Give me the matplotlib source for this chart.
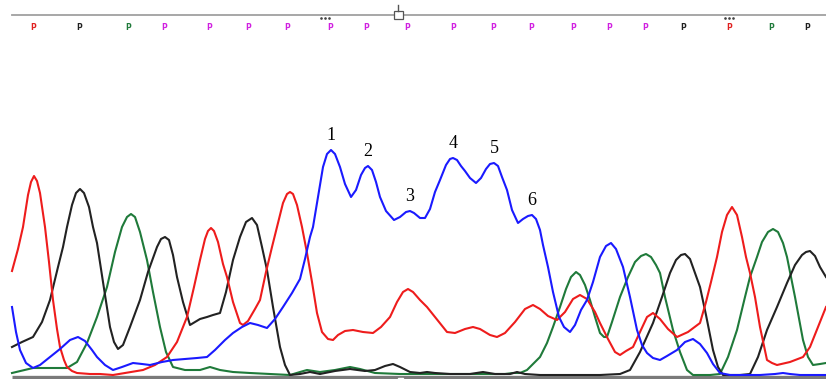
import matplotlib
matplotlib.use("Agg")
import matplotlib.pyplot as plt
from matplotlib.patches import Rectangle

# trace data: scan position, signal height above baseline
red_x = [12, 18, 23, 28, 31, 34, 37, 40, 45, 49, 53, 57, 60, 64, 67, 72, 77, 90, 100, 113, 125, 143, 155, 167, 177, 187, 194, 200, 205, 208, 211, 214, 218, 223, 227, 233, 240, 243, 248, 255, 260, 266, 272, 277, 283, 287, 290, 293, 297, 302, 307, 312, 317, 322, 328, 333, 338, 345, 353, 363, 373, 381, 390, 397, 403, 408, 413, 420, 427, 435, 447, 455, 465, 473, 480, 490, 497, 505, 515, 525, 533, 540, 548, 557, 565, 573, 580, 587, 595, 600, 608, 615, 620, 626, 633, 640, 647, 653, 660, 668, 677, 688, 700, 706, 711, 717, 722, 727, 732, 737, 742, 746, 750, 755, 760, 767, 772, 777, 790, 803, 810, 818, 826]
red_h = [106, 128, 150, 182, 195, 201, 196, 184, 150, 115, 77, 48, 30, 17, 10, 6, 4, 3, 3, 2, 4, 7, 12, 20, 35, 60, 90, 117, 138, 146, 149, 146, 135, 113, 100, 75, 54, 52, 56, 68, 77, 105, 130, 150, 174, 183, 185, 183, 172, 150, 124, 95, 64, 45, 38, 37, 42, 46, 47, 45, 44, 50, 60, 75, 85, 88, 85, 77, 70, 60, 45, 44, 48, 50, 48, 42, 40, 44, 55, 68, 72, 68, 61, 57, 65, 78, 82, 78, 65, 54, 38, 25, 22, 26, 30, 45, 60, 64, 58, 48, 40, 45, 54, 75, 95, 120, 145, 162, 170, 162, 140, 120, 104, 80, 50, 17, 14, 12, 15, 20, 30, 50, 70]

black_x = [12, 22, 33, 42, 50, 58, 63, 67, 72, 76, 80, 84, 89, 93, 97, 103, 110, 114, 118, 123, 130, 140, 148, 157, 161, 165, 169, 173, 177, 183, 190, 195, 200, 207, 213, 220, 226, 233, 240, 246, 252, 257, 262, 267, 273, 280, 285, 290, 300, 310, 320, 335, 350, 365, 375, 385, 393, 400, 410, 420, 427, 435, 450, 470, 483, 495, 510, 517, 525, 540, 560, 600, 620, 630, 640, 653, 662, 670, 676, 681, 685, 690, 695, 700, 706, 713, 718, 723, 740, 750, 758, 767, 777, 787, 795, 802, 806, 810, 815, 820, 826]
black_h = [30, 35, 40, 55, 77, 110, 130, 150, 172, 184, 188, 184, 170, 150, 134, 95, 50, 35, 28, 32, 50, 77, 105, 130, 138, 140, 137, 122, 100, 75, 52, 55, 58, 60, 62, 64, 85, 117, 140, 155, 159, 152, 130, 107, 70, 30, 12, 2, 3, 5, 3, 6, 8, 6, 7, 11, 13, 10, 5, 4, 5, 4, 3, 3, 5, 3, 3, 5, 3, 2, 2, 2, 3, 7, 25, 54, 80, 104, 117, 122, 123, 118, 104, 90, 62, 27, 10, 2, 2, 3, 20, 47, 70, 94, 112, 122, 125, 126, 121, 110, 100]

green_x = [12, 33, 55, 67, 77, 87, 97, 107, 115, 122, 127, 131, 135, 140, 147, 153, 160, 166, 173, 185, 200, 210, 220, 233, 250, 270, 290, 300, 307, 320, 335, 350, 360, 375, 400, 430, 460, 490, 505, 513, 520, 527, 535, 540, 547, 553, 560, 566, 571, 576, 580, 585, 590, 595, 600, 604, 607, 612, 620, 628, 635, 641, 646, 651, 656, 660, 665, 673, 680, 687, 693, 710, 720, 728, 737, 745, 750, 757, 762, 768, 773, 778, 783, 787, 795, 803, 808, 813, 820, 826]
green_h = [4, 9, 9, 9, 15, 34, 60, 90, 125, 150, 160, 163, 160, 145, 117, 85, 50, 25, 10, 7, 7, 10, 7, 5, 4, 3, 2, 5, 7, 5, 7, 10, 8, 4, 3, 3, 3, 3, 3, 4, 4, 7, 15, 20, 34, 50, 70, 88, 100, 105, 102, 92, 77, 60, 44, 40, 40, 55, 80, 100, 115, 121, 123, 120, 112, 104, 80, 47, 25, 7, 2, 2, 3, 20, 47, 80, 100, 120, 135, 145, 148, 145, 134, 120, 80, 37, 20, 12, 13, 14]

blue_x = [12, 16, 20, 26, 33, 40, 50, 60, 70, 78, 85, 92, 97, 105, 113, 122, 133, 142, 150, 162, 173, 185, 197, 207, 215, 225, 233, 242, 250, 258, 267, 275, 283, 292, 300, 305, 310, 313, 318, 323, 327, 331, 335, 340, 345, 351, 356, 361, 365, 368, 372, 376, 380, 386, 394, 400, 406, 410, 414, 420, 425, 430, 435, 440, 446, 450, 453, 457, 461, 465, 470, 476, 481, 486, 490, 494, 498, 502, 507, 512, 518, 523, 528, 532, 536, 540, 543, 548, 553, 559, 564, 570, 575, 581, 587, 593, 600, 606, 611, 616, 623, 630, 637, 642, 647, 653, 660, 667, 677, 685, 693, 700, 707, 713, 720, 730, 760, 775, 783, 790, 800, 826]
blue_h = [70, 45, 27, 14, 9, 12, 20, 28, 37, 40, 36, 27, 20, 12, 7, 10, 14, 13, 12, 15, 17, 18, 19, 20, 27, 37, 44, 50, 54, 52, 49, 58, 70, 84, 98, 118, 140, 150, 180, 210, 223, 227, 223, 210, 193, 180, 187, 202, 209, 211, 207, 195, 180, 166, 157, 160, 165, 166, 164, 159, 159, 168, 185, 197, 212, 218, 219, 217, 211, 206, 199, 194, 199, 208, 213, 214, 211, 200, 187, 167, 154, 158, 161, 162, 158, 147, 132, 110, 85, 60, 50, 45, 52, 67, 77, 95, 120, 131, 134, 128, 110, 80, 47, 32, 24, 19, 17, 21, 27, 35, 38, 33, 24, 13, 4, 2, 2, 3, 4, 3, 2, 2]

# numbered peaks
label_x = [331, 368, 410, 453, 494, 532]
label_h = [227, 211, 166, 219, 214, 162]
label_txt = ["1", "2", "3", "4", "5", "6"]

# base call markers along the top
call_x = [33, 79, 128, 164, 209, 248, 287, 330, 366, 407, 453, 493, 531, 573, 609, 645, 683, 729, 771, 807]
call_c = ["#e02020", "#202020", "#1f7a3a"] + ["#d020e0"] * 13 + ["#202020", "#e02020", "#1f7a3a", "#202020"]

fig = plt.figure(figsize=(8.26, 3.79), dpi=100)
ax = fig.add_axes([0, 0, 1, 1])
ax.set_xlim(0, 826)
ax.set_ylim(-2, 377)
ax.axis("off")

# baseline bar
ax.plot([12, 826], [0, 0], color="#7a7a7a", lw=2.4, solid_capstyle="butt", zorder=1)
ax.add_patch(Rectangle((398, -2), 5, 1.5, color="white", zorder=2))

lw = 1.5
ax.plot(green_x, green_h, color="#1f7a3a", lw=lw, zorder=3, solid_joinstyle="round")
ax.plot(black_x, black_h, color="#222222", lw=lw, zorder=3, solid_joinstyle="round")
ax.plot(red_x, red_h, color="#ee1c1c", lw=lw, zorder=4, solid_joinstyle="round")
ax.plot(blue_x, blue_h, color="#1a1aff", lw=lw, zorder=5, solid_joinstyle="round")

for x, h, t in zip(label_x, label_h, label_txt):
    ax.annotate(t, xy=(x, h), xytext=(0, 4), textcoords="offset points",
                ha="center", va="bottom", fontsize=13, family="Liberation Serif")

# top ruler
ax.plot([12, 826], [362, 362], color="#a0a0a0", lw=1.3, zorder=1)
ax.add_patch(Rectangle((394, 358), 9, 8, facecolor="white", edgecolor="#555555", lw=0.9, zorder=3))
ax.plot([398, 398], [366, 372], color="#555555", lw=1.0, zorder=3)
for cx in [325, 729]:
    ax.plot([cx - 4, cx, cx + 4], [359, 359, 359], ls="", marker=".", ms=1.8, color="#444444")

for x, c in zip(call_x, call_c):
    ax.text(x, 350, "P", color=c, fontsize=5.5, fontweight="bold", ha="center", va="center")

fig.savefig("out.png", dpi=100)
